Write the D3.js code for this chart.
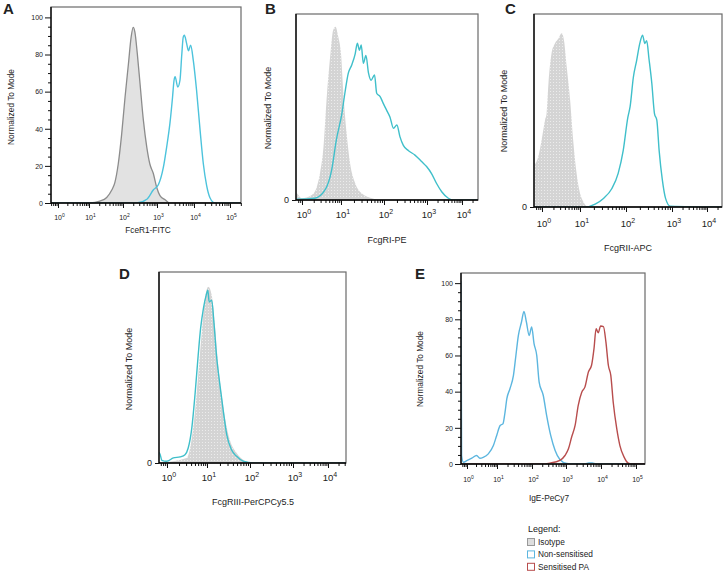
<!DOCTYPE html>
<html><head><meta charset="utf-8">
<script src="https://cdn.jsdelivr.net/npm/d3@7"></script>
<style>body{margin:0;background:#fff}svg{display:block}text{font-family:"Liberation Sans",Arial,sans-serif;fill:#222}</style>
</head><body><svg id="c" width="726" height="573"></svg>
<script>
// ---------- DATA (x = log10 intensity, y = % of mode) ----------
const seriesNames = ["Isotype", "Non-sensitised", "Sensitised PA"];
const yTickValues = [0, 20, 40, 60, 80, 100];
const axisTitles = ["FceR1-FITC", "FcgRI-PE", "FcgRII-APC", "FcgRIII-PerCPCy5.5", "IgE-PeCy7"];
const panelLetters = ["A", "B", "C", "D", "E"];
const decadesAE = [0, 1, 2, 3, 4, 5];
const decadesBCD = [0, 1, 2, 3, 4];

const aIsoX = [-0.2, 1.03, 1.32, 1.52, 1.67, 1.76, 1.86, 1.96, 2.06, 2.16, 2.24, 2.30, 2.35, 2.42, 2.5, 2.6, 2.7, 2.79, 2.89, 2.99, 3.08, 3.22, 3.35, 5.5];
const aIsoY = [0, 0, 1, 3, 7, 11, 21, 37, 57, 75, 89.5, 94.6, 92, 80.6, 64.5, 44.5, 30, 21, 16, 8.5, 4, 1.7, 0, 0];
const aNonX = [-0.2, 2.4, 2.7, 2.89, 3.04, 3.17, 3.26, 3.35, 3.42, 3.46, 3.49, 3.56, 3.62, 3.67, 3.71, 3.74, 3.8, 3.85, 3.91, 3.98, 4.07, 4.17, 4.26, 4.35, 4.44, 4.58, 5.5];
const aNonY = [0, 0, 2, 7, 10, 19, 30, 43, 57, 66, 68, 62.5, 66, 80, 89.5, 90.4, 86, 82, 85, 77, 61, 39, 21, 9.5, 3, 0, 0];

const bIsoX = [-0.2, -0.14, -0.01, 0.25, 0.38, 0.46, 0.55, 0.63, 0.72, 0.8, 0.86, 0.93, 1.0, 1.05, 1.13, 1.21, 1.33, 1.48, 1.72, 1.95, 4.5];
const bIsoY = [4, 3.8, 1, 2.8, 7.5, 15, 30, 57, 81, 96.5, 98.4, 92.7, 83, 62.5, 38, 21, 9.5, 3.8, 1, 0, 0];
const bNonX = [-0.2, -0.09, 0.33, 0.59, 0.76, 0.88, 1.02, 1.09, 1.17, 1.25, 1.33, 1.38, 1.43, 1.47, 1.52, 1.58, 1.64, 1.7, 1.78, 1.83, 1.91, 1.98, 2.06, 2.14, 2.22, 2.3, 2.37, 2.45, 2.57, 2.72, 2.88, 2.99, 3.13, 3.27, 3.42, 3.61, 3.75, 4.5];
const bNonY = [0.5, 0.5, 1, 5.7, 17, 34, 49, 60.6, 72, 76.7, 83, 89, 85, 88, 77.6, 82, 72, 68, 71, 60.6, 58.7, 55, 51, 47, 40.7, 42.6, 36, 31, 28, 25.5, 21.7, 19, 15, 9.5, 4.7, 1, 0, 0];

const cIsoX = [-0.2, -0.18, -0.1, -0.01, 0.08, 0.12, 0.17, 0.25, 0.34, 0.43, 0.52, 0.58, 0.65, 0.74, 0.82, 0.91, 1.0, 1.07, 1.18, 4.5];
const cIsoY = [24, 24, 27.5, 36.6, 47.6, 51, 67.7, 84, 89.5, 92, 95, 91, 76.7, 58.5, 36.6, 18.4, 7.5, 3, 0, 0];
const cNonX = [-0.2, 1.11, 1.33, 1.51, 1.69, 1.83, 1.94, 2.04, 2.09, 2.16, 2.23, 2.3, 2.36, 2.41, 2.45, 2.5, 2.56, 2.62, 2.67, 2.72, 2.79, 2.86, 2.96, 4.5];
const cNonY = [0, 0, 1.6, 4.7, 10, 18.4, 31, 49, 55, 71, 80, 89.5, 94, 89.5, 91, 81, 68, 51, 47.6, 31, 14.8, 4.7, 0.5, 0];

const dIsoX = [-0.2, 0.49, 0.62, 0.7, 0.78, 0.87, 0.95, 1.03, 1.11, 1.19, 1.26, 1.34, 1.42, 1.53, 1.69, 1.84, 2.08, 4.5];
const dIsoY = [0, 2.7, 13.8, 28.5, 48.7, 72.5, 91, 97.4, 92.8, 74.4, 54.2, 37.7, 24.8, 12.8, 5.5, 1.8, 0, 0];
const dNonX = [-0.2, -0.17, -0.13, -0.01, 0.16, 0.33, 0.45, 0.53, 0.62, 0.7, 0.78, 0.84, 0.91, 0.98, 1.02, 1.05, 1.11, 1.16, 1.22, 1.3, 1.38, 1.46, 1.57, 1.69, 1.84, 2.08, 4.5];
const dNonY = [6, 4.6, 1.5, 1, 2.8, 3.4, 4.6, 8.3, 19.3, 37.7, 59.7, 74.4, 85.4, 92.8, 95.5, 89, 90, 78, 59.7, 43.2, 28.5, 15.6, 7.3, 3.7, 1, 0, 0];

const eNonX = [-0.22, -0.2, -0.18, -0.12, 0.01, 0.16, 0.32, 0.43, 0.54, 0.71, 0.88, 0.99, 1.09, 1.17, 1.23, 1.28, 1.37, 1.47, 1.54, 1.61, 1.7, 1.77, 1.84, 1.92, 1.99, 2.06, 2.14, 2.21, 2.33, 2.43, 2.55, 2.68, 2.82, 3.02, 3.21, 3.55, 3.65, 3.75, 3.85, 5.4];
const eNonY = [100.7, 100.7, 4.7, 1, 2, 3.2, 4.7, 3.2, 3.7, 5.6, 10.2, 15.8, 21.3, 22.2, 28.7, 36, 41.6, 49, 60, 71, 78.5, 84.4, 78.5, 71, 75.8, 66.6, 60, 45.3, 38, 26.9, 15.8, 7.5, 2.5, 0.3, 0, 0, 0.6, 0.6, 0, 0];
const eSenX = [-0.22, 2.24, 2.53, 2.82, 2.97, 3.07, 3.16, 3.26, 3.35, 3.45, 3.54, 3.64, 3.73, 3.8, 3.86, 3.92, 3.99, 4.07, 4.14, 4.21, 4.28, 4.35, 4.45, 4.54, 4.66, 4.78, 4.92, 5.4];
const eSenY = [0, 0, 0.5, 2, 4.7, 8.4, 14.8, 21.3, 32.4, 39.7, 42.5, 50.9, 54.6, 63.8, 74.8, 72.6, 76.3, 76, 67.5, 54.6, 49, 34, 19.5, 10.2, 3.8, 0.5, 0, 0];

// ---------- LAYOUT ----------
const svg = d3.select("#c");
const defs = svg.append("defs");
const pat = defs.append("pattern").attr("id", "dots").attr("width", 3).attr("height", 3).attr("patternUnits", "userSpaceOnUse");
pat.append("rect").attr("width", 3).attr("height", 3).attr("fill", "#d4d4d4");
pat.append("rect").attr("x", 1).attr("y", 1).attr("width", 1).attr("height", 1).attr("fill", "#ececec");

const COL_ISO_LINE = "#8c8c8c", COL_NON = "#4cc3dc", COL_NON2 = "#3fbfca", COL_NONE = "#5cb6df", COL_SEN = "#b84d4d";
const YMAX = 105.6;

const panels = [
  {i: 0, box: [51, 7, 241, 203], dec: decadesAE, px: [58, 89, 123, 157, 194, 230], yTicks: true, tf: 7, sf: 5, ly: 218, letter: [3, 14], yl: [11, 107], yfs: 8.3, title: [148, 230],
   iso: [aIsoX, aIsoY], isoStyle: "outline", lines: [[aNonX, aNonY, COL_NON]]},
  {i: 1, box: [296, 14, 478, 200], dec: decadesBCD, px: [302, 341, 384, 427, 462], yTicks: false, tf: 9.5, sf: 7, ly: 215, letter: [265, 14], yl: [268, 108], yfs: 9, title: [387, 240],
   iso: [bIsoX, bIsoY], isoStyle: "dots", lines: [[bNonX, bNonY, COL_NON2]]},
  {i: 2, box: [534, 14, 722, 207], dec: decadesBCD, px: [542, 580, 626, 672, 707], yTicks: false, tf: 9.5, sf: 7, ly: 224, letter: [505, 14], yl: [504, 111], yfs: 9, title: [628, 248],
   iso: [cIsoX, cIsoY], isoStyle: "dots", lines: [[cNonX, cNonY, COL_NON2]]},
  {i: 3, box: [159, 272, 346, 463], dec: decadesBCD, px: [167, 207, 250, 293, 328], yTicks: false, tf: 9.5, sf: 7, ly: 478, letter: [119, 279], yl: [129, 369], yfs: 9, title: [253, 502],
   iso: [dIsoX, dIsoY], isoStyle: "dots", lines: [[dNonX, dNonY, COL_NON2]]},
  {i: 4, box: [461, 273, 645, 464], dec: decadesAE, px: [467, 497, 532, 566, 601, 636], yTicks: true, tf: 7, sf: 5, ly: 480, letter: [415, 279], yl: [420, 369], yfs: 8.3, title: [549, 498],
   iso: null, lines: [[eNonX, eNonY, COL_NONE], [eSenX, eSenY, COL_SEN]]}
];

panels.forEach(p => {
  const [x0, y0, x1, y1] = p.box;
  const d0 = p.px[0], d1 = p.px[1];
  const per0 = d1 - d0;
  const nL = p.px.length;
  const perL = p.px[nL - 1] - p.px[nL - 2];
  const leftDec = p.dec[0] - (d0 - x0) / per0;
  const rightDec = p.dec[nL - 1] + (x1 - p.px[nL - 1]) / perL;
  const x = d3.scaleLinear().domain([leftDec, ...p.dec, rightDec]).range([x0, ...p.px, x1]);
  const y = d3.scaleLinear().domain([0, YMAX]).range([y1, y0]);
  const g = svg.append("g");
  const cid = "clip" + p.i;
  defs.append("clipPath").attr("id", cid).append("rect").attr("x", x0).attr("y", y0).attr("width", x1 - x0).attr("height", y1 - y0);
  const plot = g.append("g").attr("clip-path", `url(#${cid})`);

  if (p.iso) {
    const pts = p.iso[0].map((v, k) => [v, p.iso[1][k]]);
    const area = d3.area().x(d => x(d[0])).y0(y(0)).y1(d => y(d[1])).curve(d3.curveMonotoneX);
    plot.append("path").attr("d", area(pts))
      .attr("fill", p.isoStyle === "dots" ? "url(#dots)" : "#e2e2e2")
      .attr("stroke", p.isoStyle === "dots" ? "none" : COL_ISO_LINE)
      .attr("stroke-width", 1.3);
  }
  p.lines.forEach(([xs, ys, col]) => {
    const pts = xs.map((v, k) => [v, ys[k]]);
    const line = d3.line().x(d => x(d[0])).y(d => y(d[1])).curve(d3.curveMonotoneX);
    plot.append("path").attr("d", line(pts)).attr("fill", "none").attr("stroke", col).attr("stroke-width", 1.4);
  });

  // frame
  g.append("rect").attr("x", x0).attr("y", y0).attr("width", x1 - x0).attr("height", y1 - y0)
    .attr("fill", "none").attr("stroke", "#6a6a6a").attr("stroke-width", 1.2);

  // x axis: major + minor log ticks
  const minor = [];
  for (let d = Math.floor(leftDec); d <= Math.ceil(rightDec); d++) {
    for (let k = 2; k <= 9; k++) { const v = d + Math.log10(k); if (v > leftDec && v < rightDec) minor.push(v); }
  }
  const xAxisG = g.append("g").attr("transform", `translate(0,${y1})`);
  xAxisG.append("g").call(d3.axisBottom(x).tickValues(minor).tickSize(3).tickFormat(""))
    .call(s => s.select(".domain").remove());
  xAxisG.append("g").call(d3.axisBottom(x).tickValues(p.dec).tickSize(5).tickFormat(""))
    .call(s => s.select(".domain").attr("d", `M${x0},0H${x1}`).attr("stroke-width", 1.3));
  xAxisG.selectAll("line").attr("stroke", "#111");
  p.dec.forEach(d => {
    const t = g.append("text").attr("x", x(d) - p.tf * 0.55).attr("y", p.ly + p.tf * 0.35)
      .attr("font-size", p.tf);
    t.append("tspan").text("10");
    t.append("tspan").attr("dy", -p.tf * 0.45).attr("font-size", p.sf).text(d);
  });

  // y axis
  const yAxisG = g.append("g").attr("transform", `translate(${x0},0)`);
  if (p.yTicks) {
    const yMinor = d3.range(0, 101, 5).filter(v => v % 20 !== 0);
    yAxisG.append("g").call(d3.axisLeft(y).tickValues(yMinor).tickSize(3).tickFormat(""))
      .call(s => s.select(".domain").remove());
    yAxisG.append("g").call(d3.axisLeft(y).tickValues(yTickValues).tickSize(6).tickPadding(2).tickFormat(d3.format("d")))
      .call(s => s.select(".domain").attr("d", `M0,${y1}V${y0}`).attr("stroke-width", 1.3))
      .call(s => s.selectAll("text").attr("font-size", p.tf).attr("font-family", "Liberation Sans, Arial, sans-serif").attr("fill", "#222"));
  } else {
    yAxisG.append("g").call(d3.axisLeft(y).tickValues([0]).tickSize(4).tickPadding(3).tickFormat(d3.format("d")))
      .call(s => s.select(".domain").attr("d", `M0,${y1}V${y0}`).attr("stroke-width", 1.3))
      .call(s => s.selectAll("text").attr("font-size", 9).attr("font-family", "Liberation Sans, Arial, sans-serif").attr("fill", "#222"));
  }
  yAxisG.selectAll("line").attr("stroke", "#111");

  // labels
  svg.append("text").attr("x", p.letter[0]).attr("y", p.letter[1]).attr("font-size", 15).attr("font-weight", "bold").attr("fill", "#000").text(panelLetters[p.i]);
  svg.append("text").attr("transform", `translate(${p.yl[0]},${p.yl[1]}) rotate(-90)`).attr("text-anchor", "middle")
    .attr("dominant-baseline", "central").attr("font-size", p.yfs).text("Normalized To Mode");
  svg.append("text").attr("x", p.title[0]).attr("y", p.title[1]).attr("text-anchor", "middle").attr("dominant-baseline", "central")
    .attr("font-size", p.yfs).text(axisTitles[p.i]);
});

// ---------- LEGEND ----------
const legend = svg.append("g").attr("transform", "translate(527,529)");
legend.append("text").attr("x", 1).attr("y", 0).attr("dominant-baseline", "central").attr("font-size", 9).attr("fill", "#333").text("Legend:");
const legFill = ["#dedede", "#fff", "#fff"], legStroke = ["#999", COL_NONE, COL_SEN];
seriesNames.forEach((n, k) => {
  const yy = 13 + k * 12.4;
  legend.append("rect").attr("x", 0.5).attr("y", yy - 3.5).attr("width", 7).attr("height", 7).attr("fill", legFill[k]).attr("stroke", legStroke[k]).attr("stroke-width", 1);
  legend.append("text").attr("x", 11).attr("y", yy).attr("dominant-baseline", "central").attr("font-size", 8.3).attr("fill", "#333").text(n);
});
</script></body></html>
